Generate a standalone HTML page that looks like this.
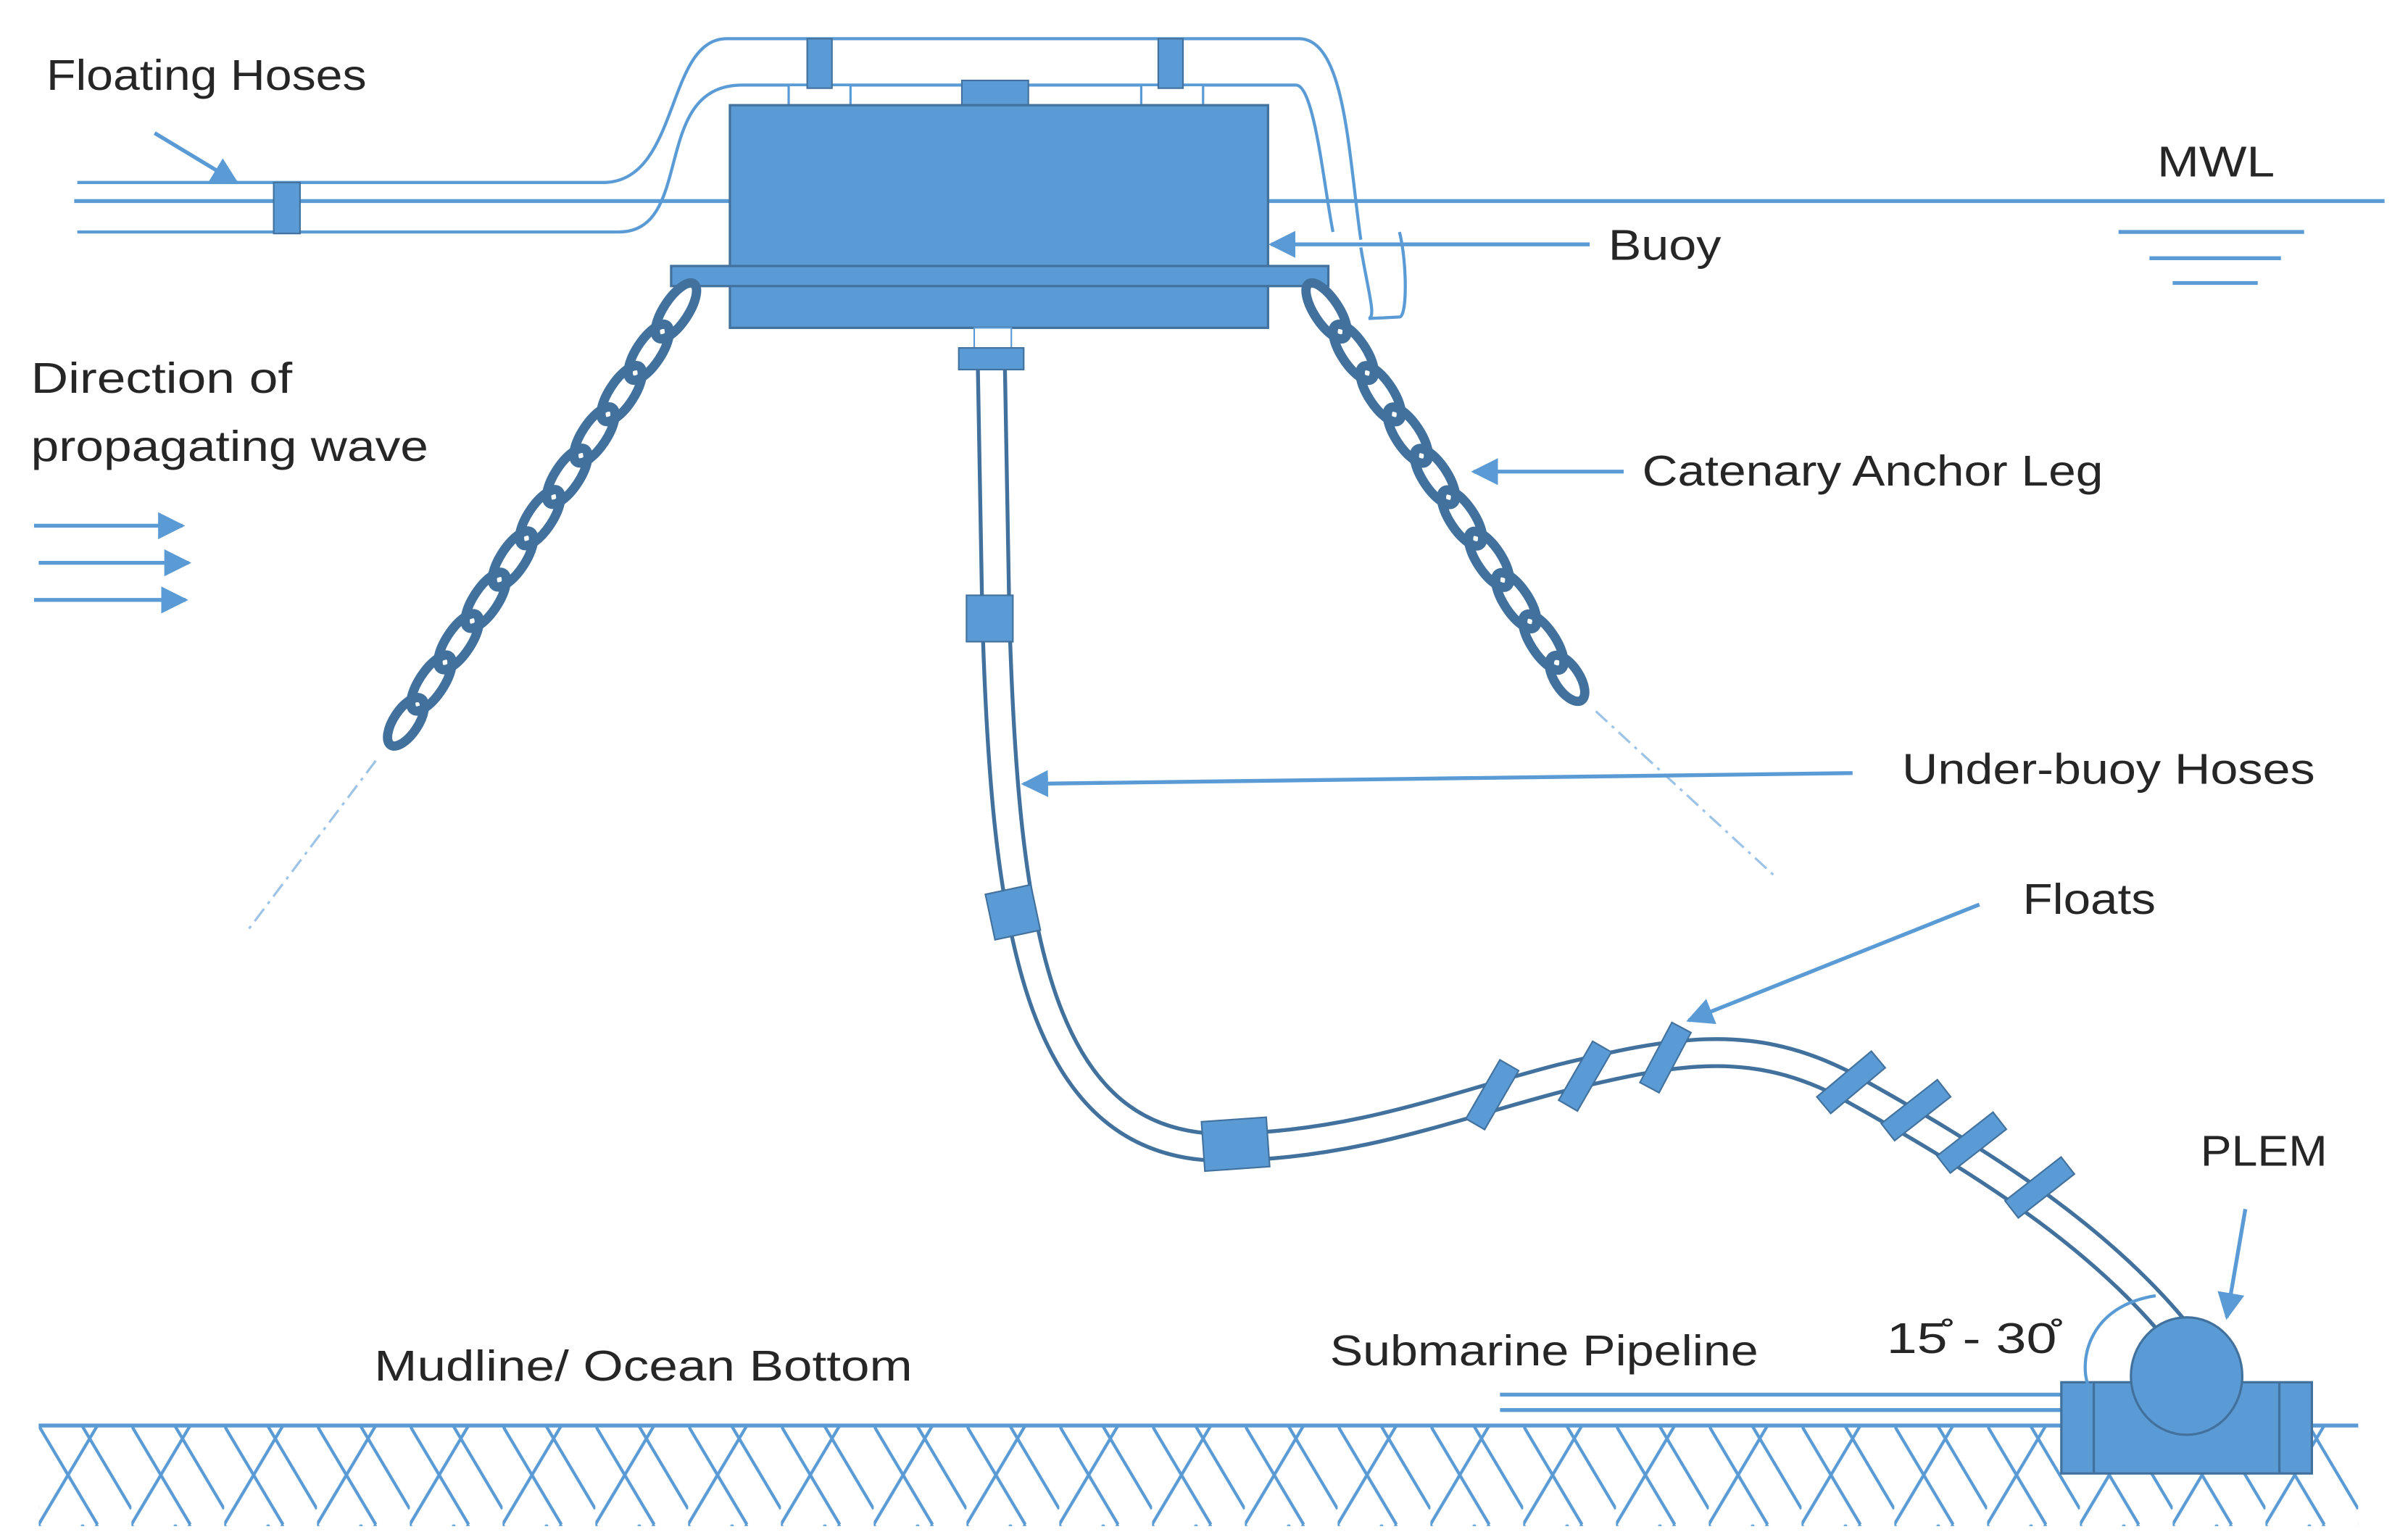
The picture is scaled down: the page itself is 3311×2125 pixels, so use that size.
<!DOCTYPE html>
<html><head><meta charset="utf-8"><style>
html,body{margin:0;padding:0;background:#fff;}
svg{display:block;}
text{font-family:"Liberation Sans",sans-serif;fill:#262626;font-size:28px;}
</style></head><body>
<svg width="3311" height="2125" viewBox="0 0 1552 996" xmlns="http://www.w3.org/2000/svg">
<defs>
<marker id="ah" viewBox="0 0 10 10" refX="9" refY="5" markerWidth="7" markerHeight="7" orient="auto-start-reverse"><path d="M0,0 L10,5 L0,10 z" fill="#5b9bd5"/></marker>
<pattern id="hatch" width="60" height="64" patternUnits="userSpaceOnUse" x="25" y="922">
<path d="M0,0 L38,64 M38,0 L0,64 M28,0 L60,54" stroke="#5b9bd5" stroke-width="2" fill="none"/>
</pattern>
</defs>

<rect x="25" y="923" width="1500" height="64" fill="url(#hatch)"/>
<line x1="25" y1="922" x2="1525" y2="922" stroke="#5b9bd5" stroke-width="2.5"/>

<line x1="820" y1="130" x2="1542" y2="130" stroke="#5b9bd5" stroke-width="2.5"/>
<line x1="48" y1="130" x2="475" y2="130" stroke="#5b9bd5" stroke-width="2.5"/>
<line x1="1370" y1="150" x2="1490" y2="150" stroke="#5b9bd5" stroke-width="2.5"/>
<line x1="1390" y1="167" x2="1475" y2="167" stroke="#5b9bd5" stroke-width="2.5"/>
<line x1="1405" y1="183" x2="1460" y2="183" stroke="#5b9bd5" stroke-width="2.5"/>

<g fill="none" stroke="#5b9bd5" stroke-width="2">
<path d="M50,118 L390,118 C440,118 430,25 470,25 L840,25 C870,25 872,100 880,155"/>
<path d="M50,150 L400,150 C450,150 420,55 480,55 L838,55 C850,55 856,120 862,150"/>
<path d="M880,160 C885,190 890,205 885,206 L905,205 C910,205 910,170 905,150"/>
</g>
<rect x="177" y="118" width="17" height="33" fill="#5b9bd5" stroke="#41719c" stroke-width="1"/>
<line x1="100" y1="86" x2="153" y2="118" stroke="#5b9bd5" stroke-width="2.5" marker-end="url(#ah)"/>

<rect x="510" y="55" width="40" height="13" fill="#fff" stroke="#5b9bd5" stroke-width="1.5"/>
<rect x="738" y="55" width="40" height="13" fill="#fff" stroke="#5b9bd5" stroke-width="1.5"/>
<rect x="522" y="25" width="16" height="32" fill="#5b9bd5" stroke="#41719c"/>
<rect x="749" y="25" width="16" height="32" fill="#5b9bd5" stroke="#41719c"/>
<rect x="622" y="52" width="43" height="17" fill="#5b9bd5" stroke="#41719c"/>
<rect x="472" y="68" width="348" height="144" fill="#5b9bd5" stroke="#41719c" stroke-width="1.5"/>
<rect x="434" y="172" width="425" height="13" fill="#5b9bd5" stroke="#41719c" stroke-width="1.5"/>
<line x1="1028" y1="158" x2="822" y2="158" stroke="#5b9bd5" stroke-width="2.5" marker-end="url(#ah)"/>

<g fill="none" stroke="#41719c" stroke-width="6">
<g transform="translate(447,186) rotate(123.3)">
<ellipse cx="18" cy="0" rx="21" ry="8"/><ellipse cx="50" cy="0" rx="21" ry="8"/><ellipse cx="82" cy="0" rx="21" ry="8"/><ellipse cx="114" cy="0" rx="21" ry="8"/><ellipse cx="146" cy="0" rx="21" ry="8"/><ellipse cx="178" cy="0" rx="21" ry="8"/><ellipse cx="210" cy="0" rx="21" ry="8"/><ellipse cx="242" cy="0" rx="21" ry="8"/><ellipse cx="274" cy="0" rx="21" ry="8"/><ellipse cx="306" cy="0" rx="21" ry="8"/><ellipse cx="336" cy="0" rx="18" ry="8"/>
</g>
<g transform="translate(848,186) rotate(56.8)">
<ellipse cx="18" cy="0" rx="21" ry="8"/><ellipse cx="50" cy="0" rx="21" ry="8"/><ellipse cx="82" cy="0" rx="21" ry="8"/><ellipse cx="114" cy="0" rx="21" ry="8"/><ellipse cx="146" cy="0" rx="21" ry="8"/><ellipse cx="178" cy="0" rx="21" ry="8"/><ellipse cx="210" cy="0" rx="21" ry="8"/><ellipse cx="242" cy="0" rx="21" ry="8"/><ellipse cx="274" cy="0" rx="21" ry="8"/><ellipse cx="302" cy="0" rx="17" ry="8"/>
</g>
</g>
<line x1="243" y1="492" x2="160" y2="602" stroke="#9dc3e6" stroke-width="1.5" stroke-dasharray="10,4,2,4"/>
<line x1="1032" y1="460" x2="1147" y2="566" stroke="#9dc3e6" stroke-width="1.5" stroke-dasharray="10,4,2,4"/>
<line x1="1050" y1="305" x2="953" y2="305" stroke="#5b9bd5" stroke-width="2.5" marker-end="url(#ah)"/>

<rect x="630" y="212" width="24" height="14" fill="#fff" stroke="#5b9bd5"/>
<path d="M641,232 L644,400 C650,600 670,745 795,742 C880,740 940,715 1010,697 C1080,680 1130,670 1190,700 C1280,750 1360,800 1413,868" fill="none" stroke="#41719c" stroke-width="20"/>
<path d="M641,232 L644,400 C650,600 670,745 795,742 C880,740 940,715 1010,697 C1080,680 1130,670 1190,700 C1280,750 1360,800 1413,868" fill="none" stroke="#fff" stroke-width="15"/>
<rect x="620" y="225" width="42" height="14" fill="#5b9bd5" stroke="#41719c"/>
<rect x="625" y="385" width="30" height="30" fill="#5b9bd5" stroke="#41719c"/>
<rect x="640" y="575" width="30" height="30" fill="#5b9bd5" stroke="#41719c" transform="rotate(-12 655 590)"/>
<rect x="778" y="724" width="42" height="32" fill="#5b9bd5" stroke="#41719c" transform="rotate(-4 799 740)"/>
<g fill="#5b9bd5" stroke="#41719c">
<rect x="958" y="686" width="14" height="44" transform="rotate(30 965 708)"/>
<rect x="1018" y="674" width="14" height="44" transform="rotate(30 1025 696)"/>
<rect x="1070" y="662" width="14" height="44" transform="rotate(28 1077 684)"/>
<rect x="1190" y="677" width="14" height="46" transform="rotate(50 1197 700)"/>
<rect x="1232" y="695" width="14" height="46" transform="rotate(52 1239 718)"/>
<rect x="1268" y="716" width="14" height="46" transform="rotate(52 1275 739)"/>
<rect x="1312" y="745" width="14" height="46" transform="rotate(52 1319 768)"/>
</g>
<line x1="1198" y1="500" x2="662" y2="507" stroke="#5b9bd5" stroke-width="2.5" marker-end="url(#ah)"/>
<line x1="1280" y1="585" x2="1092" y2="660" stroke="#5b9bd5" stroke-width="2.5" marker-end="url(#ah)"/>

<line x1="970" y1="902" x2="1335" y2="902" stroke="#5b9bd5" stroke-width="2.5"/>
<line x1="970" y1="912" x2="1335" y2="912" stroke="#5b9bd5" stroke-width="2.5"/>
<rect x="1333" y="894" width="162" height="59" fill="#5b9bd5" stroke="#41719c" stroke-width="1.5"/>
<line x1="1354" y1="894" x2="1354" y2="953" stroke="#41719c" stroke-width="1.5"/>
<line x1="1474" y1="894" x2="1474" y2="953" stroke="#41719c" stroke-width="1.5"/>
<ellipse cx="1414" cy="890" rx="36" ry="38" fill="#5b9bd5" stroke="#41719c" stroke-width="1.5"/>
<path d="M1394,838 C1350,845 1345,880 1350,895" fill="none" stroke="#5b9bd5" stroke-width="2"/>
<line x1="1452" y1="782" x2="1440" y2="852" stroke="#5b9bd5" stroke-width="2.5" marker-end="url(#ah)"/>

<line x1="22" y1="340" x2="118" y2="340" stroke="#5b9bd5" stroke-width="2.5" marker-end="url(#ah)"/>
<line x1="25" y1="364" x2="122" y2="364" stroke="#5b9bd5" stroke-width="2.5" marker-end="url(#ah)"/>
<line x1="22" y1="388" x2="120" y2="388" stroke="#5b9bd5" stroke-width="2.5" marker-end="url(#ah)"/>

<text x="30" y="58" textLength="207" lengthAdjust="spacingAndGlyphs">Floating Hoses</text>
<text x="1395" y="114" textLength="76" lengthAdjust="spacingAndGlyphs">MWL</text>
<text x="1040" y="168" textLength="73" lengthAdjust="spacingAndGlyphs">Buoy</text>
<text x="20" y="254" textLength="169" lengthAdjust="spacingAndGlyphs">Direction of</text>
<text x="20" y="298" textLength="257" lengthAdjust="spacingAndGlyphs">propagating wave</text>
<text x="1062" y="314" textLength="298" lengthAdjust="spacingAndGlyphs">Catenary Anchor Leg</text>
<text x="1230" y="507" textLength="267" lengthAdjust="spacingAndGlyphs">Under-buoy Hoses</text>
<text x="1308" y="591" textLength="86" lengthAdjust="spacingAndGlyphs">Floats</text>
<text x="1423" y="754" textLength="82" lengthAdjust="spacingAndGlyphs">PLEM</text>
<text x="860" y="883" textLength="277" lengthAdjust="spacingAndGlyphs">Submarine Pipeline</text>
<text x="1220" y="875" textLength="110" lengthAdjust="spacingAndGlyphs">15̊ - 30̊</text>
<text x="242" y="893" textLength="348" lengthAdjust="spacingAndGlyphs">Mudline/ Ocean Bottom</text>
</svg>
</body></html>
